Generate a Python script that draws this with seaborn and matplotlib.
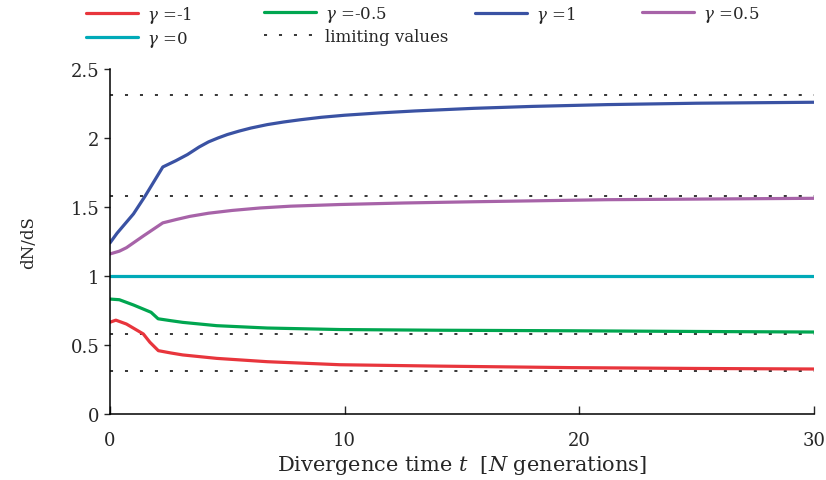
import matplotlib
matplotlib.use("Agg")
import matplotlib.pyplot as plt
import seaborn as sns
import pandas as pd

# ---- data ----
t_neg1 = [0, 0.25, 0.7, 1.42, 1.7, 2.06, 2.6, 3.1, 4.55, 6.7, 9.8, 14, 19.7, 25, 30]
y_neg1 = [0.665, 0.68, 0.652, 0.58, 0.52, 0.459, 0.442, 0.428, 0.403, 0.379, 0.357, 0.347, 0.336, 0.330, 0.326]

t_neg05 = [0, 0.4, 1.0, 1.75, 2.05, 2.6, 3.1, 4.55, 6.7, 9.8, 14, 19.7, 25, 30]
y_neg05 = [0.833, 0.828, 0.79, 0.737, 0.69, 0.676, 0.664, 0.64, 0.623, 0.612, 0.607, 0.603, 0.598, 0.594]

t_pos1 = [0, 0.3, 0.7, 1.0, 1.5, 2.25, 2.8, 3.3, 3.8, 4.2, 4.6, 5.0, 5.5, 6.0, 6.7, 7.4, 8.1, 9.0, 10.0,
          11.5, 13, 15.5, 18, 21.2, 25, 30]
y_pos1 = [1.24, 1.31, 1.39, 1.45, 1.58, 1.79, 1.835, 1.88, 1.935, 1.972, 2.0, 2.025, 2.05, 2.072, 2.097,
          2.116, 2.132, 2.15, 2.165, 2.182, 2.196, 2.215, 2.229, 2.242, 2.252, 2.259]

t_pos05 = [0, 0.4, 0.7, 1.42, 2.25, 2.84, 3.4, 4.2, 5.2, 6.4, 7.7, 9.8, 12.5, 15.5, 21.2, 30]
y_pos05 = [1.16, 1.18, 1.205, 1.29, 1.385, 1.41, 1.432, 1.455, 1.475, 1.493, 1.506, 1.518, 1.529, 1.538, 1.553, 1.563]

t_zero = [0, 30]
y_zero = [1.0, 1.0]

limits = [2.313, 1.582, 0.582, 0.313]

labels = ["$\\gamma$ =-1", "$\\gamma$ =-0.5", "$\\gamma$ =1", "$\\gamma$ =0.5", "$\\gamma$ =0"]
colors = ["#e8353c", "#00a650", "#3a52a3", "#a763a8", "#00aab8"]
series = [(t_neg1, y_neg1), (t_neg05, y_neg05), (t_pos1, y_pos1), (t_pos05, y_pos05), (t_zero, y_zero)]

sns.set_style("ticks")
plt.rcParams["font.family"] = ["DejaVu Serif"]
plt.rcParams["mathtext.fontset"] = "dejavuserif"

fig = plt.figure(figsize=(8.26, 4.81), dpi=100)
ax = fig.add_axes([110 / 826, 1 - 415 / 481, 704 / 826, 345 / 481])

handles = []
for (t, y), lab, c in zip(series, labels, colors):
    df = pd.DataFrame({"t": t, "y": y})
    sns.lineplot(data=df, x="t", y="y", ax=ax, color=c, lw=2.3, sort=False,
                 estimator=None, label=lab, legend=False)
    handles.append(ax.lines[-1])

for i, v in enumerate(limits):
    ln = ax.axhline(v, color="black", lw=1.1, ls=(0, (2, 7.8)), zorder=1)
    if i == 0:
        ln.set_label("limiting values")
        handles.append(ln)

ax.set_xlim(0, 30)
ax.set_ylim(0, 2.5)
ax.set_xticks([0, 10, 20, 30])
ax.set_yticks([0, 0.5, 1, 1.5, 2, 2.5])
ax.set_yticklabels(["0", "0.5", "1", "1.5", "2", "2.5"])
ax.tick_params(axis="x", direction="in", length=6, width=1, labelsize=13, pad=12)
ax.tick_params(axis="y", direction="out", length=4, width=1, labelsize=13)
sns.despine(ax=ax)
for s in ["left", "bottom"]:
    ax.spines[s].set_linewidth(1.1)
    ax.spines[s].set_color("black")

ax.set_xlabel("Divergence time $t$  [$N$ generations]", fontsize=15, labelpad=3)
ax.set_ylabel("dN/dS", fontsize=12, labelpad=24)

# legend laid out in four columns at the reference positions
cols = [[0, 4], [1, 5], [2], [3]]
col_x = [85, 263, 474, 641]
for idx, x in zip(cols, col_x):
    fig.legend(handles=[handles[i] for i in idx], labels=[handles[i].get_label() for i in idx],
               loc="upper left", bbox_to_anchor=(x / 826, 1 - 4 / 481), frameon=False,
               fontsize=12, handlelength=3.1, handletextpad=0.55, labelspacing=0.25,
               borderaxespad=0, borderpad=0.05)

fig.savefig("out.png", dpi=100)
